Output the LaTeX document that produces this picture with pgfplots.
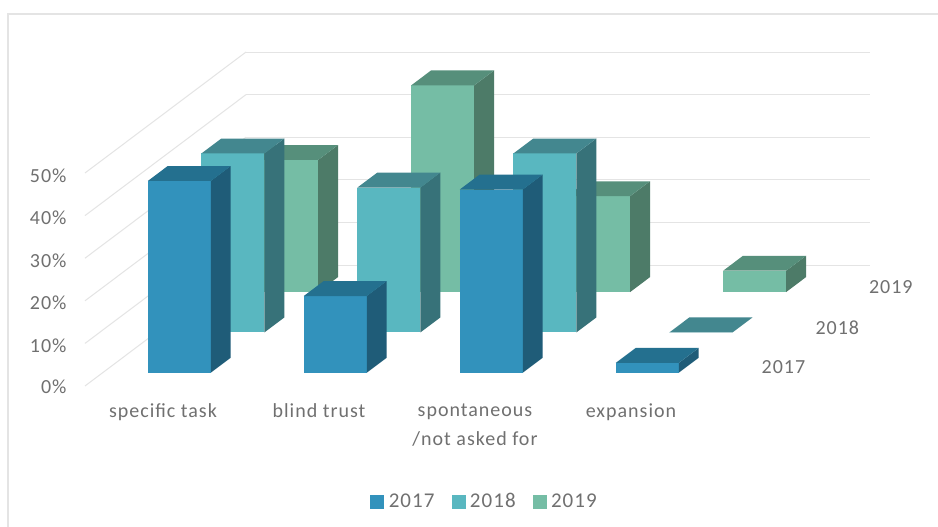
\documentclass[border=0pt]{standalone}
\usepackage{pgfplots}
\pgfplotsset{compat=1.18}
\usepackage{fontspec}
\setmainfont[LetterSpace=5]{Carlito}
\definecolor{txt}{HTML}{707070}
\definecolor{gridc}{HTML}{E4E4E4}
\definecolor{fa}{HTML}{3292BC}\definecolor{sa}{HTML}{1F5C78}\definecolor{ta}{HTML}{24708F}
\definecolor{fb}{HTML}{59B7C0}\definecolor{sb}{HTML}{377279}\definecolor{tb}{HTML}{43878F}
\definecolor{fc}{HTML}{75BDA5}\definecolor{sc}{HTML}{4D7B68}\definecolor{tc}{HTML}{568F7B}
% \Bar{category}{row}{value}{front}{side}{top}
\newcommand{\Bar}[6]{%
  \pgfmathsetmacro\xa{#1+0.289}\pgfmathsetmacro\xb{#1+0.693}%
  \pgfmathsetmacro\ya{#2+0.33}\pgfmathsetmacro\yb{#2+0.70}%
  \edef\tmp{\noexpand\addplot3[fill=#4,draw=none,forget plot] coordinates {(\xa,\ya,0) (\xb,\ya,0) (\xb,\ya,#3) (\xa,\ya,#3)};
  \noexpand\addplot3[fill=#5,draw=none,forget plot] coordinates {(\xb,\ya,0) (\xb,\yb,0) (\xb,\yb,#3) (\xb,\ya,#3)};
  \noexpand\addplot3[fill=#6,draw=none,forget plot] coordinates {(\xa,\ya,#3) (\xb,\ya,#3) (\xb,\yb,#3) (\xa,\yb,#3)};}%
  \tmp}
\begin{document}
\begin{tikzpicture}[x=1pt,y=1pt]
\useasboundingbox (0,0) rectangle (938,527);
\fill[white] (0,0) rectangle (938,527);
\draw[gridc,line width=1.2pt] (8,0) -- (8,513) -- (938,513);
\begin{axis}[
  at={(85pt,141pt)},anchor=origin,
  x={(156pt,0pt)},y={(53.67pt,40.33pt)},z={(0pt,4.26pt)},
  xmin=0,xmax=4,ymin=0,ymax=3,zmin=0,zmax=50,
  clip=false,mark=none,no marks,
  axis line style={draw=none},
  tick style={draw=none},
  major tick length=0pt,
  zmajorgrids=true,
  grid style={draw=gridc,line width=1pt},
  ztick={0,10,20,30,40,50},
  zticklabels={0\%,10\%,20\%,30\%,40\%,50\%},
  xtick={0.5,1.5,2.5,3.5},
  xticklabels={specific task,blind trust,{spontaneous\\/not asked for},expansion},
  ytick={0.5,1.5,2.5},
  yticklabels={2017,2018,2019},
  tick label style={font=\fontsize{20}{29}\selectfont,text=txt},
  x tick label style={align=center,anchor=north,yshift=-14pt},
  y tick label style={xshift=31pt,yshift=15pt},
  z tick label style={xshift=-15pt,yshift=5pt},
  legend columns=3,
  legend style={draw=none,fill=none,at={(0.509,-0.345)},anchor=center,
    font=\fontsize{21}{24}\selectfont,text=txt,
    /tikz/every even column/.style={column sep=15pt},
    /tikz/every odd column/.style={column sep=3pt}},
  legend image code/.code={\fill[#1] (0pt,-6.5pt) rectangle (13pt,6.5pt);},
]
\addlegendimage{fa}\addlegendentry{2017}
\addlegendimage{fb}\addlegendentry{2018}
\addlegendimage{fc}\addlegendentry{2019}
% 2019
\Bar{0}{2}{31}{fc}{sc}{tc}
\Bar{1}{2}{48.5}{fc}{sc}{tc}
\Bar{2}{2}{22.5}{fc}{sc}{tc}
\Bar{3}{2}{5}{fc}{sc}{tc}
% 2018
\Bar{0}{1}{42}{fb}{sb}{tb}
\Bar{1}{1}{34}{fb}{sb}{tb}
\Bar{2}{1}{42}{fb}{sb}{tb}
\Bar{3}{1}{0}{fb}{sb}{tb}
% 2017
\Bar{0}{0}{45}{fa}{sa}{ta}
\Bar{1}{0}{18}{fa}{sa}{ta}
\Bar{2}{0}{43}{fa}{sa}{ta}
\Bar{3}{0}{2.3}{fa}{sa}{ta}
\end{axis}
\end{tikzpicture}
\end{document}
